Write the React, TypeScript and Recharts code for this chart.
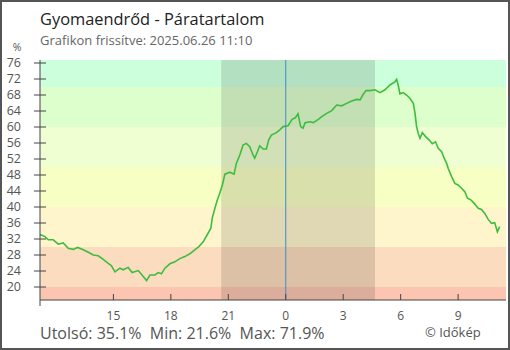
import React from "react";
import {
    LineChart,
    Line,
    XAxis,
    YAxis,
    ReferenceArea,
    ReferenceLine,
} from "recharts";

// idő órában, az éjfélhez képest (negatív = előző nap)
const hours = [
    -12.83, -12.57, -12.4, -12.14, -11.88, -11.62, -11.36, -11.1, -10.87, -10.57,
    -10.31, -10.05, -9.79, -9.53, -9.27, -9.1, -8.92, -8.66, -8.49, -8.23,
    -8.02, -7.7, -7.44, -7.27, -7.09, -6.83, -6.66, -6.49, -6.31, -6.05,
    -5.79, -5.53, -5.27, -5.01, -4.75, -4.54, -4.31, -4.11, -3.91, -3.84,
    -3.7, -3.57, -3.44, -3.31, -3.18, -2.92, -2.7, -2.58, -2.4, -2.23,
    -2.06, -1.88, -1.71, -1.62, -1.48, -1.36, -1.18, -1.01, -0.89, -0.75,
    -0.49, -0.31, -0.14, 0.12, 0.33, 0.5, 0.64, 0.78, 0.9, 1.01,
    1.27, 1.44, 1.7, 1.88, 2.14, 2.4, 2.66, 2.92, 3.18, 3.44,
    3.7, 3.88, 4.02, 4.19, 4.4, 4.66, 4.92, 5.18, 5.44, 5.7,
    5.79, 5.87, 5.96, 6.13, 6.31, 6.48, 6.66, 6.75, 6.83, 6.92,
    7.01, 7.13, 7.3, 7.48, 7.65, 7.82, 7.96, 8.14, 8.27, 8.4,
    8.48, 8.66, 8.83, 9.0, 9.18, 9.35, 9.49, 9.66, 9.84, 10.05,
    10.22, 10.39, 10.57, 10.74, 10.91, 11.05, 11.17,
];

// páratartalom, %
const humidity = [
    33.1, 32.6, 31.8, 31.8, 30.7, 31.0, 29.7, 29.4, 29.9, 29.3,
    28.7, 28.0, 27.8, 26.9, 25.9, 25.3, 23.8, 24.7, 24.3, 24.9,
    23.6, 24.1, 22.6, 21.6, 23.0, 23.0, 23.6, 23.3, 24.7, 25.8,
    26.3, 27.1, 27.6, 28.3, 29.3, 30.1, 31.3, 33.0, 34.7, 37.2,
    39.7, 41.8, 43.5, 45.5, 48.2, 48.7, 48.2, 50.9, 53.0, 55.5,
    55.9, 55.1, 53.0, 52.2, 53.8, 55.3, 54.5, 54.5, 56.8, 58.0,
    58.6, 59.3, 60.1, 60.3, 61.9, 62.3, 63.3, 60.1, 59.7, 61.1,
    61.3, 61.1, 61.9, 62.6, 63.4, 64.1, 65.5, 65.3, 65.9, 66.5,
    66.9, 66.8, 68.0, 69.1, 69.1, 69.3, 68.6, 69.3, 70.5, 71.3,
    71.9, 70.5, 68.3, 68.6, 68.0, 67.2, 65.9, 63.4, 60.1, 58.4,
    57.2, 58.6, 57.6, 56.8, 55.8, 56.3, 54.7, 53.8, 52.2, 50.9,
    49.7, 47.6, 45.9, 45.5, 44.7, 43.8, 42.2, 41.8, 40.9, 39.7,
    39.4, 38.4, 36.9, 35.9, 36.1, 33.8, 35.1,
];

const yTicks = [20, 24, 28, 32, 36, 40, 44, 48, 52, 56, 60, 64, 68, 72, 76];
const xTicks = [-9, -6, -3, 0, 3, 6, 9];

// háttérsávok (alsó, felső határ, szín)
const bandFrom = [16.75, 20, 30, 40, 50, 60, 70];
const bandTo = [20, 30, 40, 50, 60, 70, 76.75];
const bandColors = ["#fcc5b1", "#fbdcbf", "#fff5cd", "#f7ffc4", "#efffd2", "#ddffcc", "#ccffdc"];

const night = [-3.37, 4.66];

const data = hours.map((t, i) => ({ t, v: humidity[i] }));

const FONT = "'Open Sans', sans-serif";

const renderYTick = (props: any) => {
    const { x, y, payload } = props;
    return (
        <g key={`y-${payload.value}`}>
            <line x1={x - 6} x2={x + 6} y1={y} y2={y} stroke="#444" />
            <text x={x - 19} y={y} dy={4.3} textAnchor="end" fontSize={12.5} fill="#555" fontFamily={FONT}>
                {payload.value}
            </text>
        </g>
    );
};

const renderXTick = (props: any) => {
    const { x, y, payload } = props;
    const h = ((payload.value % 24) + 24) % 24;
    return (
        <g key={`x-${payload.value}`}>
            <line x1={x} x2={x} y1={y - 6} y2={y} stroke="#444" />
            <text x={x} y={y} dy={19.5} textAnchor="middle" fontSize={12} fill="#555" fontFamily={FONT}>
                {h}
            </text>
        </g>
    );
};

export default function App() {
    return (
        <div style={{ position: "absolute", left: 0, top: 0, width: 510, height: 350, background: "#fff" }}>
            <LineChart
                width={510}
                height={350}
                data={data}
                margin={{ top: 60, right: 4, bottom: 0, left: 0 }}
            >
                {bandFrom.map((from, i) => (
                    <ReferenceArea
                        key={i}
                        y1={from}
                        y2={bandTo[i]}
                        fill={bandColors[i]}
                        fillOpacity={1}
                        stroke="none"
                    />
                ))}
                <ReferenceArea x1={night[0]} x2={night[1]} fill="#000" fillOpacity={0.12} stroke="none" />
                <XAxis
                    type="number"
                    dataKey="t"
                    domain={[-12.833, 11.5]}
                    ticks={xTicks}
                    allowDataOverflow
                    height={50}
                    tickSize={0}
                    tickMargin={0}
                    axisLine={{ stroke: "#444" }}
                    tick={renderXTick}
                    interval={0}
                />
                <YAxis
                    domain={[16.75, 76.75]}
                    ticks={yTicks}
                    allowDataOverflow
                    width={40}
                    tickSize={0}
                    tickMargin={0}
                    axisLine={{ stroke: "#444" }}
                    tick={renderYTick}
                    interval={0}
                />
                <Line
                    type="linear"
                    dataKey="v"
                    stroke="#3dbd3d"
                    strokeWidth={1.6}
                    dot={false}
                    isAnimationActive={false}
                />
                <ReferenceLine x={0} stroke="#3d8cc4" strokeWidth={1} />
            </LineChart>
            <svg
                width={510}
                height={350}
                style={{ position: "absolute", left: 0, top: 0, pointerEvents: "none" }}
                fontFamily={FONT}
            >
                <text x={40} y={25} fontSize={16.4} fill="#222">Gyomaendrőd - Páratartalom</text>
                <text x={40} y={45} fontSize={13} fill="#666">Grafikon frissítve: 2025.06.26 11:10</text>
                <text x={17} y={51} fontSize={10.5} fill="#555" textAnchor="middle">%</text>
                <line x1={40} x2={40} y1={300} y2={306} stroke="#444" />
                <text x={40} y={339} fontSize={16} fill="#555" style={{ whiteSpace: "pre" }}>
                    {"Utolsó: 35.1%  Min: 21.6%  Max: 71.9%"}
                </text>
                <text x={425} y={337} fontSize={13} fill="#555">© Időkép</text>
                <rect x={1} y={1} width={508} height={348} fill="none" stroke="#555" strokeWidth={2} />
            </svg>
        </div>
    );
}
